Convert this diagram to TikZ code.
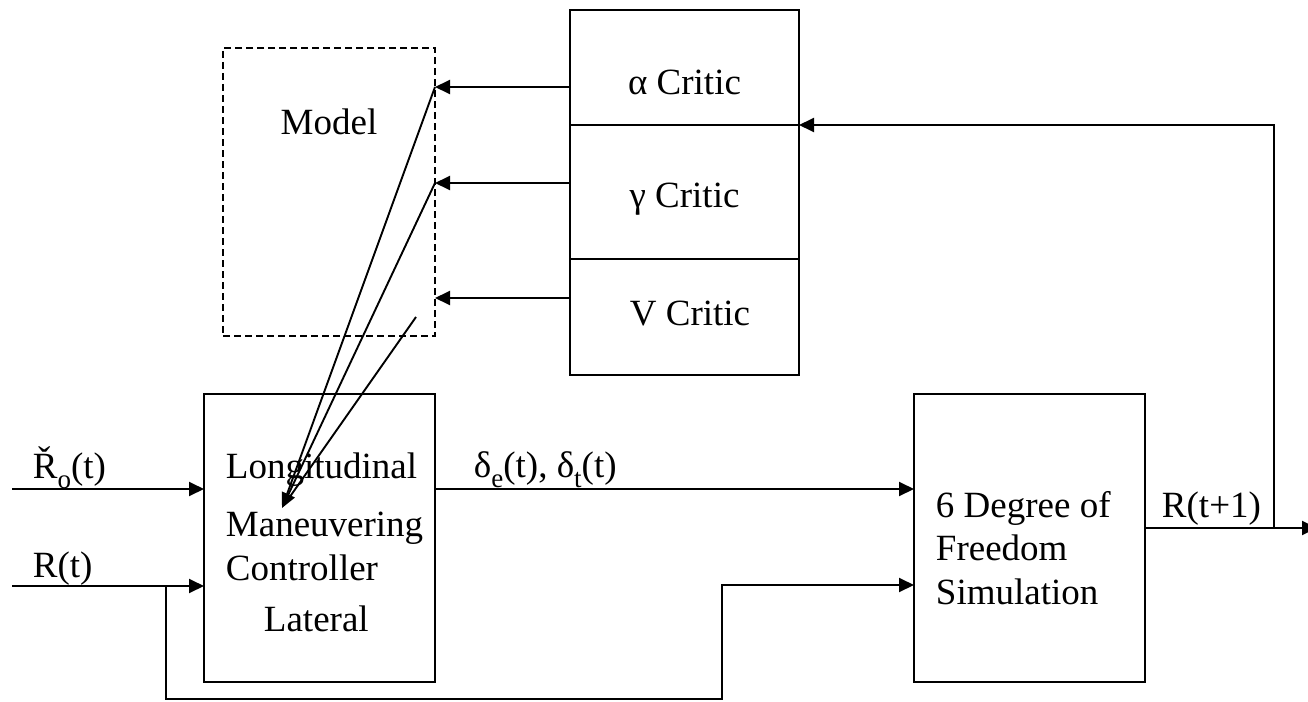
\documentclass[tikz,border=0pt]{standalone}
\usepackage{fontspec}
\setmainfont{Liberation Serif}
\usetikzlibrary{arrows.meta}
\newcommand{\lowsub}[1]{\raisebox{-10pt}{\fontsize{27}{27}\selectfont #1}}
\begin{document}
\begin{tikzpicture}[x=1pt,y=-1pt,line width=1.9pt,
  >={Triangle[length=15pt,width=14pt]},
  box/.style={draw,rectangle,inner sep=0,outer sep=0},
  lbl/.style={inner sep=0,anchor=base west,font=\fontsize{37}{44}\selectfont},
  clbl/.style={inner sep=0,anchor=base,font=\fontsize{37}{44}\selectfont}]
\clip (0,0) rectangle (1308,701);
\useasboundingbox (0,0) rectangle (1308,701);
% boxes
\node[box,minimum width=231pt,minimum height=288pt] (ctrl) at (319.5,538) {};
\node[box,minimum width=231pt,minimum height=288pt] (sim) at (1029.5,538) {};
\node[box,minimum width=229pt,minimum height=115pt] (critA) at (684.5,67.5) {};
\node[box,minimum width=229pt,minimum height=134pt] (critG) at (684.5,192) {};
\node[box,minimum width=229pt,minimum height=116pt] (critV) at (684.5,317) {};
\node[box,dash pattern=on 7pt off 4pt,minimum width=212pt,minimum height=288pt] (model) at (329,192) {};
% texts
\node[clbl] (tA) at (684.5,94) {α Critic};
\node[clbl] (tG) at (684.5,207) {γ Critic};
\node[clbl] (tV) at (690,325) {V Critic};
\node[clbl] (tM) at (329,134) {Model};
\node[lbl] (c1) at (225,478) {Longitudinal};
\node[lbl] (c2) at (225,536) {Maneuvering};
\node[lbl] (c3) at (225,580) {Controller};
\node[lbl] (c4) at (263,631) {Lateral};
\node[lbl] (s1) at (935,517) {6 Degree of};
\node[lbl] (s2) at (935,560) {Freedom};
\node[lbl] (s3) at (935,604) {Simulation};
\node[lbl] (lR0) at (32,478) {Ř\lowsub{o}(t)};
\node[lbl] (lR) at (32,577) {R(t)};
\node[lbl] (ld) at (473,477) {δ\lowsub{e}(t), δ\lowsub{t}(t)};
\node[lbl] (lR1) at (1161,517) {R(t+1)};
% coordinates
\coordinate (inA) at (12,489);
\coordinate (inB) at (12,586);
\coordinate (br) at (166,586);
\coordinate (bl) at (166,699);
\coordinate (brr) at (722,699);
\coordinate (up) at (722,585);
\coordinate (out) at (1317,528);
\coordinate (fb) at (1274,528);
\coordinate (fbt) at (1274,125);
\coordinate (mA) at (435,87);
\coordinate (mG) at (435,183);
\coordinate (mV) at (435,298);
\coordinate (mS) at (416,317);
\coordinate (tip) at (282,508);
% connectors
\draw[->] (inA) -- (inA -| ctrl.west);
\draw[->] (inB) -- (inB -| ctrl.west);
\draw[->] (ctrl.east |- inA) -- (sim.west |- inA);
\draw[->] (br) -- (bl) -- (brr) -- (up) -- (sim.west |- up);
\draw[->] (sim.east |- out) -- (out);
\draw[->] (fb) -- (fbt) -- (critA.south east);
\draw[->] (critA.west |- mA) -- (mA);
\draw[->] (critG.west |- mG) -- (mG);
\draw[->] (critV.west |- mV) -- (mV);
\draw[shorten >=6pt] (mA) -- (tip);
\draw[->] (mG) -- (tip);
\draw[shorten >=6pt] (mS) -- (tip);
\end{tikzpicture}
\end{document}
